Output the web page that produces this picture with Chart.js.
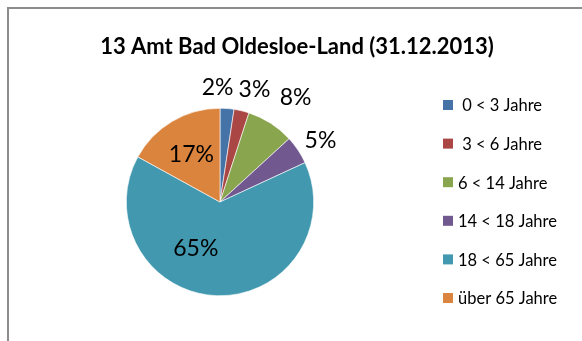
<!DOCTYPE html>
<html>
<head>
<meta charset="utf-8">
<script src="https://cdn.jsdelivr.net/npm/chart.js@4"></script>
<style>
  html, body { margin: 0; padding: 0; background: #fff; }
  #wrap { width: 582px; height: 341px; }
</style>
</head>
<body>
<div id="wrap"><canvas id="c" width="582" height="341"></canvas></div>
<script>
// data
const title = '13 Amt Bad Oldesloe-Land (31.12.2013)';
const categories = [' 0 < 3 Jahre', ' 3 < 6 Jahre', '6 < 14 Jahre', '14 < 18 Jahre', '18 < 65 Jahre', 'über 65 Jahre'];
const shares = [2.4, 2.6, 8.2, 4.9, 64.9, 17.0];
const shareLabels = ['2%', '3%', '8%', '5%', '65%', '17%'];

const colors = ['#4572A7', '#AA4643', '#89A54E', '#71588F', '#4198AF', '#DB843D'];
const FONT = 'Lato, "Open Sans", sans-serif';

// where each percent label sits: distance from centre (in radii) and angle tweak (deg)
const labelPlace = [
  { dist: 1.23, turn: -5.5 },
  { dist: 1.27, turn: 3.5 },
  { dist: 1.38, turn: 3 },
  { dist: 1.26, turn: 2 },
  { dist: 0.55, turn: 26 },
  { dist: 0.60, turn: 0 }
];

// frame, title and legend
const decor = {
  id: 'decor',
  beforeDraw(chart) {
    const ctx = chart.ctx;
    ctx.save();
    ctx.fillStyle = '#fff';
    ctx.fillRect(0, 0, chart.width, chart.height);
    ctx.strokeStyle = '#8c8c8c';
    ctx.lineWidth = 2;
    ctx.beginPath();
    ctx.moveTo(8, chart.height);
    ctx.lineTo(8, 8);
    ctx.lineTo(chart.width, 8);
    ctx.stroke();
    ctx.restore();
  },
  afterDraw(chart) {
    const ctx = chart.ctx;
    ctx.save();
    ctx.fillStyle = '#000';
    ctx.textBaseline = 'middle';
    ctx.textAlign = 'center';
    ctx.font = 'bold 22px ' + FONT;
    ctx.fillText(title, 297, 47);

    ctx.textAlign = 'left';
    ctx.font = '16.5px ' + FONT;
    categories.forEach((name, i) => {
      const y = 105 + i * 38.6;
      ctx.fillStyle = colors[i];
      ctx.fillRect(443, y - 5, 10, 10);
      ctx.fillStyle = '#000';
      ctx.fillText(name, 458, y + 1);
    });
    ctx.restore();
  }
};

// percentage labels placed from each arc's geometry
const pctLabels = {
  id: 'pctLabels',
  afterDatasetsDraw(chart) {
    const ctx = chart.ctx;
    const arcs = chart.getDatasetMeta(0).data;
    ctx.save();
    ctx.font = '23px ' + FONT;
    ctx.fillStyle = '#000';
    ctx.textAlign = 'center';
    ctx.textBaseline = 'middle';
    arcs.forEach((arc, i) => {
      const p = arc.getProps(['x', 'y', 'startAngle', 'endAngle', 'outerRadius'], true);
      const mid = (p.startAngle + p.endAngle) / 2 + labelPlace[i].turn * Math.PI / 180;
      const d = p.outerRadius * labelPlace[i].dist;
      ctx.fillText(shareLabels[i], p.x + Math.cos(mid) * d, p.y + Math.sin(mid) * d + 1);
    });
    ctx.restore();
  }
};

new Chart(document.getElementById('c'), {
  type: 'pie',
  data: {
    labels: categories,
    datasets: [{
      data: shares,
      backgroundColor: colors,
      borderColor: '#ffffff',
      borderWidth: 0.6
    }]
  },
  options: {
    responsive: false,
    animation: false,
    layout: {
      padding: { left: 126, top: 108, right: 268, bottom: 45 }
    },
    plugins: {
      legend: { display: false },
      title: { display: false },
      tooltip: { enabled: false }
    }
  },
  plugins: [decor, pctLabels]
});
</script>
</body>
</html>
